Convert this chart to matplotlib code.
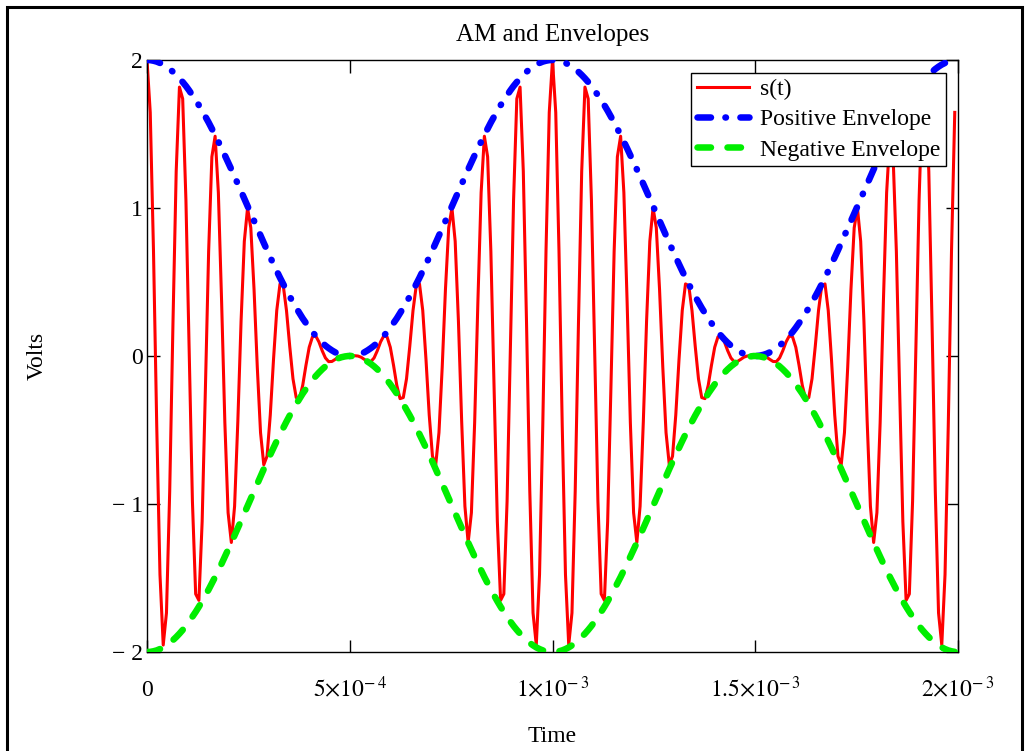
import numpy as np
import matplotlib
matplotlib.use("Agg")
import matplotlib.pyplot as plt
from matplotlib.patches import Rectangle
from matplotlib.ticker import FixedLocator, FixedFormatter

# ---------------- data (sampled every 8 microseconds, 250 samples) ----------------
n_samples = 250
dt = 8e-6

s_t = [
    2.000, 1.646, 0.711, -0.470, -1.477, -1.953, -1.736, -0.913, 0.217, 1.247,
    1.817, 1.738, 1.053, 0.023, -0.981, -1.608, -1.651, -1.119, -0.223, 0.707,
    1.346, 1.485, 1.104, 0.366, -0.451, -1.059, -1.260, -1.015, -0.442, 0.236,
    0.775, 1.001, 0.866, 0.449, -0.076, -0.518, -0.735, -0.677, -0.399, -0.023,
    0.308, 0.487, 0.476, 0.307, 0.065, -0.154, -0.281, -0.288, -0.198, -0.063,
    0.059, 0.129, 0.136, 0.095, 0.036, -0.013, -0.038, -0.037, -0.023, -0.008,
    0.000, 0.002, 0.000, 0.000, 0.002, 0.000, -0.008, -0.023, -0.037, -0.038,
    -0.013, 0.036, 0.095, 0.136, 0.129, 0.059, -0.063, -0.198, -0.288, -0.281,
    -0.154, 0.065, 0.307, 0.476, 0.487, 0.308, -0.023, -0.399, -0.677, -0.735,
    -0.518, -0.076, 0.449, 0.866, 1.001, 0.775, 0.236, -0.442, -1.015, -1.260,
    -1.059, -0.451, 0.366, 1.104, 1.485, 1.346, 0.707, -0.223, -1.119, -1.651,
    -1.608, -0.981, 0.023, 1.053, 1.738, 1.817, 1.247, 0.217, -0.913, -1.736,
    -1.953, -1.477, -0.470, 0.711, 1.646,
    2.000, 1.646, 0.711, -0.470, -1.477, -1.953, -1.736, -0.913, 0.217, 1.247,
    1.817, 1.738, 1.053, 0.023, -0.981, -1.608, -1.651, -1.119, -0.223, 0.707,
    1.346, 1.485, 1.104, 0.366, -0.451, -1.059, -1.260, -1.015, -0.442, 0.236,
    0.775, 1.001, 0.866, 0.449, -0.076, -0.518, -0.735, -0.677, -0.399, -0.023,
    0.308, 0.487, 0.476, 0.307, 0.065, -0.154, -0.281, -0.288, -0.198, -0.063,
    0.059, 0.129, 0.136, 0.095, 0.036, -0.013, -0.038, -0.037, -0.023, -0.008,
    0.000, 0.002, 0.000, 0.000, 0.002, 0.000, -0.008, -0.023, -0.037, -0.038,
    -0.013, 0.036, 0.095, 0.136, 0.129, 0.059, -0.063, -0.198, -0.288, -0.281,
    -0.154, 0.065, 0.307, 0.476, 0.487, 0.308, -0.023, -0.399, -0.677, -0.735,
    -0.518, -0.076, 0.449, 0.866, 1.001, 0.775, 0.236, -0.442, -1.015, -1.260,
    -1.059, -0.451, 0.366, 1.104, 1.485, 1.346, 0.707, -0.223, -1.119, -1.651,
    -1.608, -0.981, 0.023, 1.053, 1.738, 1.817, 1.247, 0.217, -0.913, -1.736,
    -1.953, -1.477, -0.470, 0.711, 1.646,
]

positive_envelope = [
    2.000, 1.999, 1.995, 1.989, 1.980, 1.969, 1.955, 1.939, 1.920, 1.899,
    1.876, 1.851, 1.824, 1.794, 1.762, 1.729, 1.694, 1.657, 1.618, 1.578,
    1.536, 1.493, 1.448, 1.403, 1.356, 1.309, 1.261, 1.212, 1.163, 1.113,
    1.063, 1.013, 0.962, 0.912, 0.862, 0.813, 0.764, 0.715, 0.667, 0.620,
    0.574, 0.529, 0.486, 0.443, 0.402, 0.363, 0.325, 0.289, 0.254, 0.222,
    0.191, 0.162, 0.136, 0.112, 0.090, 0.070, 0.053, 0.038, 0.025, 0.015,
    0.008, 0.003, 0.000, 0.000, 0.003, 0.008, 0.015, 0.025, 0.038, 0.053,
    0.070, 0.090, 0.112, 0.136, 0.162, 0.191, 0.222, 0.254, 0.289, 0.325,
    0.363, 0.402, 0.443, 0.486, 0.529, 0.574, 0.620, 0.667, 0.715, 0.764,
    0.813, 0.862, 0.912, 0.962, 1.013, 1.063, 1.113, 1.163, 1.212, 1.261,
    1.309, 1.356, 1.403, 1.448, 1.493, 1.536, 1.578, 1.618, 1.657, 1.694,
    1.729, 1.762, 1.794, 1.824, 1.851, 1.876, 1.899, 1.920, 1.939, 1.955,
    1.969, 1.980, 1.989, 1.995, 1.999,
    2.000, 1.999, 1.995, 1.989, 1.980, 1.969, 1.955, 1.939, 1.920, 1.899,
    1.876, 1.851, 1.824, 1.794, 1.762, 1.729, 1.694, 1.657, 1.618, 1.578,
    1.536, 1.493, 1.448, 1.403, 1.356, 1.309, 1.261, 1.212, 1.163, 1.113,
    1.063, 1.013, 0.962, 0.912, 0.862, 0.813, 0.764, 0.715, 0.667, 0.620,
    0.574, 0.529, 0.486, 0.443, 0.402, 0.363, 0.325, 0.289, 0.254, 0.222,
    0.191, 0.162, 0.136, 0.112, 0.090, 0.070, 0.053, 0.038, 0.025, 0.015,
    0.008, 0.003, 0.000, 0.000, 0.003, 0.008, 0.015, 0.025, 0.038, 0.053,
    0.070, 0.090, 0.112, 0.136, 0.162, 0.191, 0.222, 0.254, 0.289, 0.325,
    0.363, 0.402, 0.443, 0.486, 0.529, 0.574, 0.620, 0.667, 0.715, 0.764,
    0.813, 0.862, 0.912, 0.962, 1.013, 1.063, 1.113, 1.163, 1.212, 1.261,
    1.309, 1.356, 1.403, 1.448, 1.493, 1.536, 1.578, 1.618, 1.657, 1.694,
    1.729, 1.762, 1.794, 1.824, 1.851, 1.876, 1.899, 1.920, 1.939, 1.955,
    1.969, 1.980, 1.989, 1.995, 1.999,
]

negative_envelope = [
    -2.000, -1.999, -1.995, -1.989, -1.980, -1.969, -1.955, -1.939, -1.920, -1.899,
    -1.876, -1.851, -1.824, -1.794, -1.762, -1.729, -1.694, -1.657, -1.618, -1.578,
    -1.536, -1.493, -1.448, -1.403, -1.356, -1.309, -1.261, -1.212, -1.163, -1.113,
    -1.063, -1.013, -0.962, -0.912, -0.862, -0.813, -0.764, -0.715, -0.667, -0.620,
    -0.574, -0.529, -0.486, -0.443, -0.402, -0.363, -0.325, -0.289, -0.254, -0.222,
    -0.191, -0.162, -0.136, -0.112, -0.090, -0.070, -0.053, -0.038, -0.025, -0.015,
    -0.008, -0.003, -0.000, -0.000, -0.003, -0.008, -0.015, -0.025, -0.038, -0.053,
    -0.070, -0.090, -0.112, -0.136, -0.162, -0.191, -0.222, -0.254, -0.289, -0.325,
    -0.363, -0.402, -0.443, -0.486, -0.529, -0.574, -0.620, -0.667, -0.715, -0.764,
    -0.813, -0.862, -0.912, -0.962, -1.013, -1.063, -1.113, -1.163, -1.212, -1.261,
    -1.309, -1.356, -1.403, -1.448, -1.493, -1.536, -1.578, -1.618, -1.657, -1.694,
    -1.729, -1.762, -1.794, -1.824, -1.851, -1.876, -1.899, -1.920, -1.939, -1.955,
    -1.969, -1.980, -1.989, -1.995, -1.999,
    -2.000, -1.999, -1.995, -1.989, -1.980, -1.969, -1.955, -1.939, -1.920, -1.899,
    -1.876, -1.851, -1.824, -1.794, -1.762, -1.729, -1.694, -1.657, -1.618, -1.578,
    -1.536, -1.493, -1.448, -1.403, -1.356, -1.309, -1.261, -1.212, -1.163, -1.113,
    -1.063, -1.013, -0.962, -0.912, -0.862, -0.813, -0.764, -0.715, -0.667, -0.620,
    -0.574, -0.529, -0.486, -0.443, -0.402, -0.363, -0.325, -0.289, -0.254, -0.222,
    -0.191, -0.162, -0.136, -0.112, -0.090, -0.070, -0.053, -0.038, -0.025, -0.015,
    -0.008, -0.003, -0.000, -0.000, -0.003, -0.008, -0.015, -0.025, -0.038, -0.053,
    -0.070, -0.090, -0.112, -0.136, -0.162, -0.191, -0.222, -0.254, -0.289, -0.325,
    -0.363, -0.402, -0.443, -0.486, -0.529, -0.574, -0.620, -0.667, -0.715, -0.764,
    -0.813, -0.862, -0.912, -0.962, -1.013, -1.063, -1.113, -1.163, -1.212, -1.261,
    -1.309, -1.356, -1.403, -1.448, -1.493, -1.536, -1.578, -1.618, -1.657, -1.694,
    -1.729, -1.762, -1.794, -1.824, -1.851, -1.876, -1.899, -1.920, -1.939, -1.955,
    -1.969, -1.980, -1.989, -1.995, -1.999,
]

x_ticks = [0, 5e-4, 1e-3, 1.5e-3, 2e-3]
x_tick_labels = ["0", r"$5{\times}10^{-\,4}$", r"$1{\times}10^{-\,3}$",
                 r"$1.5{\times}10^{-\,3}$", r"$2{\times}10^{-\,3}$"]
y_ticks = [-2, -1, 0, 1, 2]
y_tick_labels = ["\u2212 2", "\u2212 1", "0", "1", "2"]

series_labels = ["s(t)", "Positive Envelope", "Negative Envelope"]

# ---------------- figure ----------------
plt.rcParams["font.family"] = ["Liberation Serif", "DejaVu Serif"]
plt.rcParams["mathtext.fontset"] = "stix"
plt.rcParams["lines.scale_dashes"] = False

W, H = 1026, 751
fig = plt.figure(figsize=(W / 100, H / 100), dpi=100)
ax = fig.add_axes([147 / W, 1 - 652 / H, (958 - 147) / W, (652 - 60) / H])

t = np.arange(n_samples) * dt

ax.plot(t, s_t, color="#ff0000", lw=2.2, label=series_labels[0], zorder=2)
ax.plot(t, positive_envelope, color="#0000ff", lw=4.7, solid_capstyle="round",
        dash_capstyle="round", dashes=(9.7, 10.4, 0.4, 10.4),
        label=series_labels[1], zorder=3)
ax.plot(t, negative_envelope, color="#00ee00", lw=4.7, dash_capstyle="round",
        dashes=(9.7, 11.9), label=series_labels[2], zorder=4)

ax.set_xlim(0, 2e-3)
ax.set_ylim(-2, 2)
ax.xaxis.set_major_locator(FixedLocator(x_ticks))
ax.xaxis.set_major_formatter(FixedFormatter(x_tick_labels))
ax.yaxis.set_major_locator(FixedLocator(y_ticks))
ax.yaxis.set_major_formatter(FixedFormatter(y_tick_labels))
ax.tick_params(direction="in", length=9, width=1, top=True, right=True,
               labelsize=17, colors="black")
ax.tick_params(axis="x", pad=32)
ax.tick_params(axis="y", pad=3)
for lbl in ax.get_xticklabels():
    lbl.set_verticalalignment("baseline")
for sp in ax.spines.values():
    sp.set_linewidth(1.0)

ax.set_title("AM and Envelopes", fontsize=18, pad=14)
ax.set_xlabel("Time", fontsize=17)
ax.xaxis.set_label_coords(0.5, (652 - 737) / 592)
ax.xaxis.label.set_verticalalignment("center")
ax.set_ylabel("Volts", fontsize=17)
ax.yaxis.set_label_coords((37 - 147) / 811, 0.5)
ax.yaxis.label.set_verticalalignment("center")

leg = ax.legend(loc="upper right", bbox_to_anchor=(0.985, 0.978),
                borderaxespad=0, fontsize=17, frameon=True, fancybox=False,
                edgecolor="black", framealpha=1, handlelength=2.2,
                handletextpad=0.45, borderpad=0.25, labelspacing=0.36)
leg.get_frame().set_linewidth(1.0)

fig.patches.append(Rectangle((7 / W, -0.05), (1022 - 7) / W, 1.05 - 7 / H,
                             transform=fig.transFigure, fill=False,
                             edgecolor="black", linewidth=2.2))

fig.savefig("out.png", dpi=100)
